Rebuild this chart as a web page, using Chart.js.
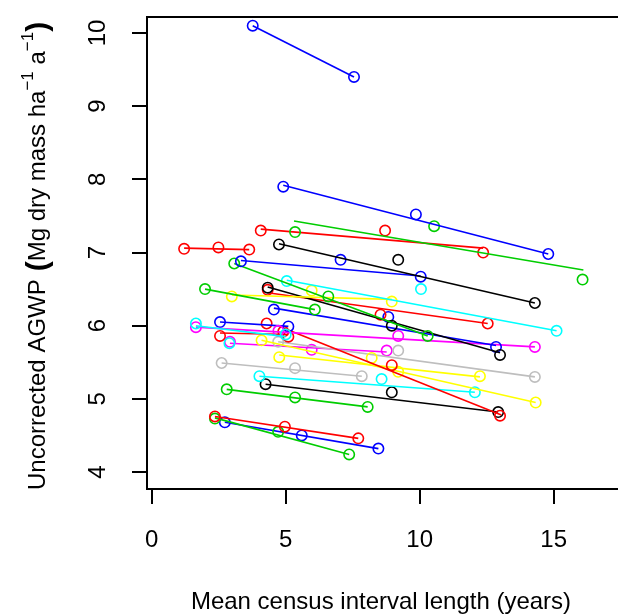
<!DOCTYPE html>
<html><head><meta charset="utf-8">
<script src="https://cdn.jsdelivr.net/npm/chart.js@4.4.1/dist/chart.umd.min.js"></script>
<style>html,body{margin:0;padding:0;background:#fff;overflow:hidden;width:618px;height:616px}</style>
</head><body>
<canvas id="c" width="660" height="616" style="width:660px;height:616px;display:block"></canvas>
<script>
const palette = {black:'#000000', red:'#FF0000', green:'#00CD00', blue:'#0000FF', cyan:'#00FFFF', magenta:'#FF00FF', yellow:'#FFFF00', gray:'#BEBEBE'};
const siteColor = ['blue','blue','green','red','red','black','blue','green','green','cyan','yellow','black','red','blue','cyan','magenta','blue','red','red','yellow','yellow','gray','gray','cyan','black','green','red','green','blue','magenta'];
const siteX = [
 [3.77,7.55],[4.91,9.86,14.80],[5.35,10.54,16.08],[4.07,8.71,12.37],[1.21,2.49,3.64],
 [4.75,9.20,14.30],[3.33,7.05,10.04],[3.08,6.59,10.30],[1.99,6.09],[5.04,10.05,15.11],
 [2.99,5.97,8.96],[4.33,8.96,13.0],[4.33,8.54,12.54],[4.56,8.83,12.85],[1.65,2.90,5.0],
 [1.65,4.73,9.20,14.30],[2.55,5.10],[2.55,4.29,5.10],[4.91,8.96,13.0],[4.10,9.20,14.33],
 [4.76,8.21,12.25],[2.61,5.35,7.84],[4.72,9.2,14.30],[4.02,8.58,12.06],[4.25,8.96,12.93],
 [2.80,5.35,8.06],[2.36,4.97,7.71],[2.36,4.72,7.37],[2.73,5.60,8.46],[2.92,5.97,8.77]];
const siteY = [
 [10.10,9.40],[7.90,7.52,6.98],[7.28,7.36,6.63],[7.30,7.30,7.00],[7.05,7.07,7.04],
 [7.11,6.90,6.31],[6.88,6.90,6.67],[6.85,6.40,5.86],[6.50,6.22],[6.61,6.50,5.93],
 [6.40,6.48,6.33],[6.52,6.00,5.60],[6.49,6.15,6.03],[6.22,6.12,5.71],[6.03,5.76,5.88],
 [5.98,5.93,5.86,5.71],[6.05,5.99],[5.86,6.03,5.85],[5.92,5.46,4.77],[5.80,5.37,4.95],
 [5.57,5.56,5.31],[5.49,5.42,5.31],[5.78,5.66,5.30],[5.31,5.27,5.09],[5.20,5.09,4.82],
 [5.13,5.02,4.89],[4.76,4.62,4.46],[4.73,4.55,4.24],[4.68,4.50,4.32],[5.78,5.67,5.66]];
const lineX = [
 [3.77,7.55],[4.91,14.80],[5.31,16.11],[4.07,12.37],[1.21,3.64],
 [4.75,14.30],[3.33,10.04],[3.08,10.30],[1.99,6.09],[5.04,15.11],
 [2.99,8.96],[4.33,13.0],[4.33,12.54],[4.56,12.85],[1.65,5.0],
 [1.65,14.30],[2.55,5.10],[2.55,5.10],[4.91,13.05],[4.10,14.33],
 [4.76,12.25],[2.61,7.84],[4.72,14.30],[4.02,12.06],[4.25,12.93],
 [2.80,8.06],[2.36,7.71],[2.36,7.37],[2.73,8.46],[2.92,8.77]];
const lineY = [
 [10.10,9.40],[7.92,6.98],[7.43,6.76],[7.32,7.06],[7.06,7.04],
 [7.12,6.31],[6.89,6.68],[6.85,5.86],[6.50,6.22],[6.62,5.93],
 [6.42,6.36],[6.53,5.63],[6.45,6.03],[6.24,5.73],[6.00,5.85],
 [5.98,5.71],[6.05,5.99],[5.90,5.88],[5.97,4.78],[5.80,4.95],
 [5.60,5.30],[5.49,5.31],[5.78,5.30],[5.31,5.09],[5.20,4.82],
 [5.13,4.89],[4.76,4.46],[4.74,4.24],[4.68,4.32],[5.76,5.64]];
const xTicks = [0,5,10,15];
const yTicks = [4,5,6,7,8,9,10];
const xTitle = 'Mean census interval length (years)';
const yTitleMain = 'Uncorrected AGWP';

const FONT = '"Liberation Sans", Arial, Helvetica, sans-serif';
const datasets = [];
siteColor.forEach((cn, i) => {
  const col = palette[cn];
  datasets.push({type:'scatter', data: siteX[i].map((x,j)=>({x, y: siteY[i][j]})),
    showLine:false, pointStyle:'circle', pointRadius:5.2, pointBorderWidth:1.6,
    borderColor:col, backgroundColor:'rgba(0,0,0,0)', pointBackgroundColor:'rgba(0,0,0,0)', pointBorderColor:col});
  datasets.push({type:'scatter', data: lineX[i].map((x,j)=>({x, y: lineY[i][j]})),
    showLine:true, pointRadius:0, borderWidth:1.6, borderColor:col, backgroundColor:col});
});

const deco = {
  id:'deco',
  afterDraw(chart){
    const ctx = chart.ctx, a = chart.chartArea;
    const xs = chart.scales.x, ys = chart.scales.y;
    ctx.save();
    ctx.strokeStyle = '#000'; ctx.lineWidth = 2;
    ctx.beginPath(); ctx.moveTo(a.left, a.top); ctx.lineTo(a.right, a.top); ctx.stroke();
    ctx.fillStyle = '#000';
    ctx.font = '24px ' + FONT;
    ctx.textAlign = 'center'; ctx.textBaseline = 'middle';
    xTicks.forEach(v => ctx.fillText(String(v), xs.getPixelForValue(v), 540));
    yTicks.forEach(v => {
      ctx.save(); ctx.translate(98.5, ys.getPixelForValue(v)); ctx.rotate(-Math.PI/2);
      ctx.fillText(String(v), 0, 0); ctx.restore();
    });
    ctx.textBaseline = 'alphabetic';
    ctx.fillText(xTitle, 381, 609);
    ctx.save(); ctx.translate(45, 490); ctx.rotate(-Math.PI/2);
    ctx.textAlign = 'left';
    let u = 0;
    const main = '24px ' + FONT, sup = '17px ' + FONT, big = 'bold 30px ' + FONT;
    const put = (t, f, dy) => { ctx.font = f; ctx.fillText(t, u, dy); u += ctx.measureText(t).width; };
    put(yTitleMain, main, 0);
    u += 8;
    put('(', big, 2);
    put('Mg dry mass ha', main, 0);
    put('\u22121', sup, -12);
    put(' a', main, 0);
    put('\u22121', sup, -12);
    put(')', big, 2);
    ctx.restore();
    ctx.restore();
  }
};

const mkTicks = (arr) => (scale) => { scale.ticks = arr.map(v => ({value:v})); };
new Chart(document.getElementById('c'), {
  type:'scatter',
  data:{datasets},
  options:{
    responsive:false, animation:false, devicePixelRatio:1,
    layout:{padding:{top:17, right:15, left:0, bottom:0}},
    plugins:{legend:{display:false}, tooltip:{enabled:false}},
    scales:{
      x:{type:'linear', min:-0.1754, max:18.41,
        afterBuildTicks: mkTicks(xTicks),
        afterFit(s){ s.height = 127; },
        ticks:{display:false},
        grid:{display:true, drawOnChartArea:false, drawTicks:true, tickLength:15, color:'#000', lineWidth:2},
        border:{display:true, color:'#000', width:2}},
      y:{type:'linear', min:3.768, max:10.219,
        afterBuildTicks: mkTicks(yTicks),
        afterFit(s){ s.width = 147; },
        ticks:{display:false},
        grid:{display:true, drawOnChartArea:false, drawTicks:true, tickLength:15, color:'#000', lineWidth:2},
        border:{display:true, color:'#000', width:2}}
    }
  },
  plugins:[deco]
});
</script>
</body></html>
